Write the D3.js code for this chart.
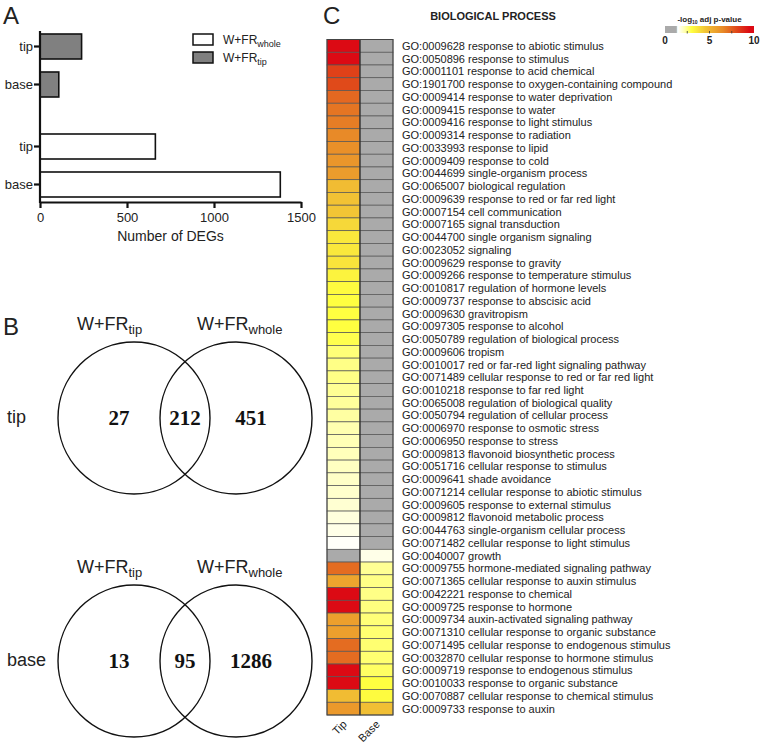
<!DOCTYPE html>
<html>
<head>
<meta charset="utf-8">
<script src="https://cdn.jsdelivr.net/npm/d3@7/dist/d3.min.js"></script>
<style>
  body { margin: 0; background: #fff; }
  svg { display: block; font-family: Arial, "Liberation Sans", sans-serif; }
</style>
</head>
<body>
<svg width="762" height="749"></svg>
<script>
// ---- data ----
const samples = ['tip', 'base'];
const tipDegs = [239, 108];     // W+FR tip, per sample
const wholeDegs = [663, 1381];  // W+FR whole, per sample
const xTicks = [0, 500, 1000, 1500];

const vennTip = [27, 212, 451];    // tip only, shared, whole only
const vennBase = [13, 95, 1286];

const goTerms = [
  'GO:0009628 response to abiotic stimulus',
  'GO:0050896 response to stimulus',
  'GO:0001101 response to acid chemical',
  'GO:1901700 response to oxygen-containing compound',
  'GO:0009414 response to water deprivation',
  'GO:0009415 response to water',
  'GO:0009416 response to light stimulus',
  'GO:0009314 response to radiation',
  'GO:0033993 response to lipid',
  'GO:0009409 response to cold',
  'GO:0044699 single-organism process',
  'GO:0065007 biological regulation',
  'GO:0009639 response to red or far red light',
  'GO:0007154 cell communication',
  'GO:0007165 signal transduction',
  'GO:0044700 single organism signaling',
  'GO:0023052 signaling',
  'GO:0009629 response to gravity',
  'GO:0009266 response to temperature stimulus',
  'GO:0010817 regulation of hormone levels',
  'GO:0009737 response to abscisic acid',
  'GO:0009630 gravitropism',
  'GO:0097305 response to alcohol',
  'GO:0050789 regulation of biological process',
  'GO:0009606 tropism',
  'GO:0010017 red or far-red light signaling pathway',
  'GO:0071489 cellular response to red or far red light',
  'GO:0010218 response to far red light',
  'GO:0065008 regulation of biological quality',
  'GO:0050794 regulation of cellular process',
  'GO:0006970 response to osmotic stress',
  'GO:0006950 response to stress',
  'GO:0009813 flavonoid biosynthetic process',
  'GO:0051716 cellular response to stimulus',
  'GO:0009641 shade avoidance',
  'GO:0071214 cellular response to abiotic stimulus',
  'GO:0009605 response to external stimulus',
  'GO:0009812 flavonoid metabolic process',
  'GO:0044763 single-organism cellular process',
  'GO:0071482 cellular response to light stimulus',
  'GO:0040007 growth',
  'GO:0009755 hormone-mediated signaling pathway',
  'GO:0071365 cellular response to auxin stimulus',
  'GO:0042221 response to chemical',
  'GO:0009725 response to hormone',
  'GO:0009734 auxin-activated signaling pathway',
  'GO:0071310 cellular response to organic substance',
  'GO:0071495 cellular response to endogenous stimulus',
  'GO:0032870 cellular response to hormone stimulus',
  'GO:0009719 response to endogenous stimulus',
  'GO:0010033 response to organic substance',
  'GO:0070887 cellular response to chemical stimulus',
  'GO:0009733 response to auxin'
];
// -log10 adj p-value (0 = not significant)
const tipScores = [
  10, 9.8, 8.2, 8.0, 7.3, 7.0, 6.8, 6.5, 6.3, 6.1,
  5.9, 4.8, 4.6, 4.5, 4.0, 3.6, 3.6, 3.7, 3.3, 3.1,
  3.0, 3.0, 3.0, 2.9, 2.6, 2.5, 2.5, 2.4, 2.35, 2.3,
  2.2, 2.15, 2.1, 2.05, 2.0, 1.95, 1.9, 1.8, 1.7, 1.55,
  0, 7.2, 5.6, 10, 10, 5.8, 5.8, 7.2, 7.2, 10,
  10, 4.8, 6.0
];
const baseScores = [
  0, 0, 0, 0, 0, 0, 0, 0, 0, 0,
  0, 0, 0, 0, 0, 0, 0, 0, 0, 0,
  0, 0, 0, 0, 0, 0, 0, 0, 0, 0,
  0, 0, 0, 0, 0, 0, 0, 0, 0, 0,
  1.7, 2.4, 2.5, 2.5, 2.55, 2.6, 2.65, 2.65, 2.65, 2.75,
  3.0, 3.1, 4.7
];
const heatCols = ['Tip', 'Base'];
const legendTicks = [0, 5, 10];

const svg = d3.select('svg');

function panelLetter(txt, x, y) {
  svg.append('text').attr('x', x).attr('y', y)
    .attr('font-size', 24).attr('fill', '#222').text(txt);
}

// ---- A: bar chart ----
panelLetter('A', 3, 24);
const gA = svg.append('g');
const xA = d3.scaleLinear().domain([0, 1500]).range([40, 301]);
const groupY = d3.scaleBand().domain(['tip', 'whole']).range([34, 197]).paddingInner(0.37);
const innerY = d3.scaleBand().domain(samples).range([0, groupY.bandwidth()]).paddingInner(0.342);

const barData = [];
samples.forEach((s, i) => {
  barData.push({ group: 'tip', sample: s, value: tipDegs[i] });
  barData.push({ group: 'whole', sample: s, value: wholeDegs[i] });
});

gA.selectAll('.bar').data(barData).enter().append('rect')
  .attr('x', xA(0))
  .attr('y', d => groupY(d.group) + innerY(d.sample))
  .attr('width', d => xA(d.value) - xA(0))
  .attr('height', innerY.bandwidth())
  .attr('fill', d => d.group === 'tip' ? '#808080' : '#fff')
  .attr('stroke', '#111').attr('stroke-width', 1.6);

// x axis
const axX = gA.append('g').attr('transform', 'translate(0,202)')
  .call(d3.axisBottom(xA).tickValues(xTicks).tickFormat(d3.format('d')).tickSize(6).tickSizeOuter(0));
axX.select('.domain').attr('stroke-width', 2.2).attr('stroke', '#111');
axX.selectAll('.tick line').attr('stroke-width', 2.2).attr('stroke', '#111');
axX.selectAll('.tick text').attr('font-size', 13).attr('font-family', 'Arial, "Liberation Sans"')
  .attr('fill', '#222').attr('dy', '0.85em');
gA.append('text').attr('x', xA(750)).attr('y', 241).attr('text-anchor', 'middle')
  .attr('font-size', 14).attr('fill', '#222').text('Number of DEGs');

// y axis
gA.append('line').attr('x1', 40).attr('x2', 40).attr('y1', 31).attr('y2', 203)
  .attr('stroke', '#111').attr('stroke-width', 2.2);
const yTick = gA.selectAll('.ytick').data(barData).enter().append('g')
  .attr('transform', d => `translate(40,${groupY(d.group) + innerY(d.sample) + innerY.bandwidth() / 2})`);
yTick.append('line').attr('x1', -6).attr('x2', 0).attr('stroke', '#111').attr('stroke-width', 2.2);
yTick.append('text').attr('x', -7).attr('dy', '0.35em').attr('text-anchor', 'end')
  .attr('font-size', 13).attr('fill', '#222').text(d => d.sample);

// legend
const legA = [{ fill: '#fff', sub: 'whole' }, { fill: '#808080', sub: 'tip' }];
const lg = gA.selectAll('.leg').data(legA).enter().append('g')
  .attr('transform', (d, i) => `translate(193,${34 + i * 18})`);
lg.append('rect').attr('width', 20).attr('height', 11).attr('fill', d => d.fill)
  .attr('stroke', '#111').attr('stroke-width', 1.5);
const lt = lg.append('text').attr('x', 30).attr('y', 10).attr('font-size', 12).attr('fill', '#222');
lt.append('tspan').text('W+FR');
lt.append('tspan').attr('font-size', 9).attr('dy', 3).text(d => d.sub);

// ---- B: venn diagrams ----
panelLetter('B', 3, 335);
const vennRows = [{ name: 'tip', counts: vennTip }, { name: 'base', counts: vennBase }];
const vy = d3.scalePoint().domain(['tip', 'base']).range([418, 661]);
const vx = d3.scalePoint().domain(['W+FR_tip', 'W+FR_whole']).range([134, 236]);
const vr = 76;

vennRows.forEach(row => {
  const cy = vy(row.name);
  const g = svg.append('g');
  vx.domain().forEach(set => {
    g.append('circle').attr('cx', vx(set)).attr('cy', cy).attr('r', vr)
      .attr('fill', 'none').attr('stroke', '#111').attr('stroke-width', 1.4);
    const [main, sub] = set.split('_');
    const t = g.append('text').attr('x', vx(set) - (sub === 'tip' ? 57 : 39)).attr('y', cy - 88)
      .attr('font-size', 18).attr('fill', '#222');
    t.append('tspan').text(main);
    t.append('tspan').attr('font-size', 13).attr('dy', 4).text(sub);
  });
  g.append('text').attr('x', 7).attr('y', cy + 5).attr('font-size', 18).attr('fill', '#222').text(row.name);
  const [a, b] = vx.domain().map(vx);
  const pos = [a - 15, (a + b) / 2, b + 15];
  g.selectAll('.num').data(row.counts).enter().append('text')
    .attr('x', (d, i) => pos[i]).attr('y', cy + 7).attr('text-anchor', 'middle')
    .attr('font-family', '"Times New Roman", "Liberation Serif", serif')
    .attr('font-weight', 'bold').attr('font-size', 21).attr('fill', '#111')
    .text(d => d);
});

// ---- C: heatmap ----
panelLetter('C', 323, 24);
svg.append('text').attr('x', 493).attr('y', 20).attr('text-anchor', 'middle')
  .attr('font-size', 11).attr('font-weight', 'bold').attr('fill', '#222').text('BIOLOGICAL PROCESS');

const hx = d3.scaleBand().domain(heatCols).range([327, 393]);
const hy = d3.scaleBand().domain(goTerms).range([39.5, 715]);
const heatColor = d3.scaleLinear()
  .domain([1.3, 1.5, 2.2, 3, 4.5, 6.5, 8, 9.5])
  .range(['#d8f1f4', '#ffffff', '#ffffb0', '#ffff40', '#f2c535', '#e88a28', '#e04a1a', '#dc0a14'])
  .clamp(true);
const colorOf = v => v < 1.3 ? '#aaaaaa' : heatColor(v);

const cells = [];
goTerms.forEach((t, i) => {
  cells.push({ term: t, col: 'Tip', v: tipScores[i] });
  cells.push({ term: t, col: 'Base', v: baseScores[i] });
});
const gC = svg.append('g');
gC.selectAll('.cell').data(cells).enter().append('rect')
  .attr('x', d => hx(d.col)).attr('y', d => hy(d.term))
  .attr('width', hx.bandwidth()).attr('height', hy.bandwidth())
  .attr('fill', d => colorOf(d.v))
  .attr('stroke', '#555').attr('stroke-width', 0.7);
gC.append('line').attr('x1', hx('Base')).attr('x2', hx('Base'))
  .attr('y1', hy.range()[0]).attr('y2', hy.range()[1]).attr('stroke', '#222').attr('stroke-width', 1);
gC.append('rect').attr('x', hx.range()[0]).attr('y', hy.range()[0])
  .attr('width', hx.range()[1] - hx.range()[0]).attr('height', hy.range()[1] - hy.range()[0])
  .attr('fill', 'none').attr('stroke', '#444').attr('stroke-width', 1);

gC.selectAll('.lab').data(goTerms).enter().append('text')
  .attr('x', 402).attr('y', d => hy(d) + hy.bandwidth() / 2 + 4)
  .attr('font-size', 11).attr('fill', '#222').text(d => d);

gC.selectAll('.collab').data(heatCols).enter().append('text')
  .attr('transform', d => `translate(${hx(d) + hx.bandwidth() / 2 + 4},${725}) rotate(-45)`)
  .attr('text-anchor', 'end').attr('font-size', 11).attr('fill', '#222').text(d => d);

// color legend
const lx = d3.scaleLinear().domain([0, 10]).range([665, 754]);
const defs = svg.append('defs');
const grad = defs.append('linearGradient').attr('id', 'lgrad');
grad.append('stop').attr('offset', '0%').attr('stop-color', '#aaaaaa');
grad.append('stop').attr('offset', '12.9%').attr('stop-color', '#aaaaaa');
d3.range(1.3, 10.01, 0.1).forEach(v => {
  grad.append('stop').attr('offset', (v * 10) + '%').attr('stop-color', heatColor(v));
});
svg.append('rect').attr('x', lx(0)).attr('y', 26).attr('width', lx(10) - lx(0)).attr('height', 7)
  .attr('fill', 'url(#lgrad)');
svg.selectAll('.ltick').data([2.5, 5, 7.5]).enter().append('line')
  .attr('x1', d => lx(d)).attr('x2', d => lx(d)).attr('y1', 31).attr('y2', 33.5)
  .attr('stroke', '#333').attr('stroke-width', 0.8);
svg.selectAll('.llab').data(legendTicks).enter().append('text')
  .attr('x', d => lx(d)).attr('y', 44).attr('text-anchor', 'middle')
  .attr('font-size', 10).attr('font-weight', 'bold').attr('fill', '#222').text(d => d);
const lt2 = svg.append('text').attr('x', lx(5)).attr('y', 22).attr('text-anchor', 'middle')
  .attr('font-size', 8).attr('font-weight', 'bold').attr('fill', '#222');
lt2.append('tspan').text('-log');
lt2.append('tspan').attr('font-size', 5).attr('dy', 2).text('10');
lt2.append('tspan').attr('dy', -2).text(' adj p-value');
</script>
</body>
</html>
